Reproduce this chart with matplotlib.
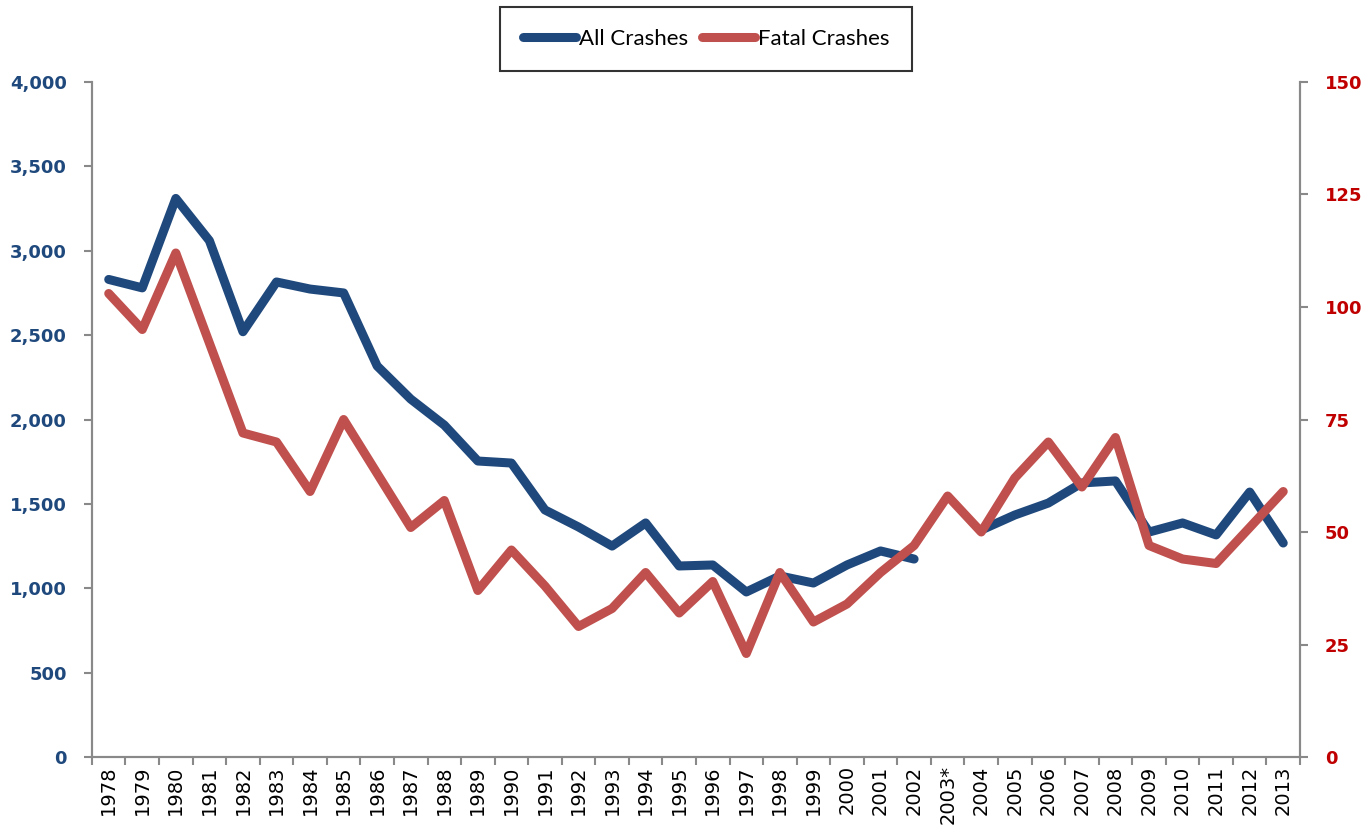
import numpy as np
import matplotlib
matplotlib.use("Agg")
import matplotlib.pyplot as plt
from matplotlib.lines import Line2D

years = ["1978", "1979", "1980", "1981", "1982", "1983", "1984", "1985", "1986", "1987",
         "1988", "1989", "1990", "1991", "1992", "1993", "1994", "1995", "1996", "1997",
         "1998", "1999", "2000", "2001", "2002", "2003*", "2004", "2005", "2006", "2007",
         "2008", "2009", "2010", "2011", "2012", "2013"]

all_crashes = [2830, 2780, 3310, 3060, 2520, 2815, 2773, 2750, 2317, 2121,
               1967, 1754, 1742, 1464, 1363, 1250, 1387, 1132, 1138, 978,
               1073, 1031, 1138, 1221, 1173, np.nan, 1345, 1434, 1505, 1624,
               1636, 1333, 1387, 1316, 1570, 1268]

fatal_crashes = [103, 95, 112, 92, 72, 70, 59, 75, 63, 51,
                 57, 37, 46, 38, 29, 33, 41, 32, 39, 23,
                 41, 30, 34, 41, 47, 58, 50, 62, 70, 60,
                 71, 47, 44, 43, 51, 59]

BLUE = "#1F497D"
RED = "#C0504D"
DARKRED = "#C00000"
GRAY = "#898989"

fig = plt.figure(figsize=(13.66, 8.35), dpi=100)
ax = fig.add_axes([0.0673, 0.0934, 0.8844, 0.8084])
ax2 = ax.twinx()

x = np.arange(len(years))
ax.plot(x, all_crashes, color=BLUE, lw=6.5, solid_capstyle="round", solid_joinstyle="round", zorder=3)
ax2.plot(x, fatal_crashes, color=RED, lw=6.5, solid_capstyle="round", solid_joinstyle="round", zorder=3)

ax.set_xlim(-0.5, len(years) - 0.5)
ax.set_ylim(0, 4000)
ax2.set_ylim(0, 150)

ax.set_yticks(np.arange(0, 4001, 500))
ax.set_yticklabels([f"{v:,}" for v in range(0, 4001, 500)])
ax2.set_yticks(np.arange(0, 151, 25))

# x ticks at category boundaries, labels at centers
ax.set_xticks(np.arange(-0.5, len(years), 1.0))
ax.set_xticklabels([])
ax.set_xticks(x, minor=True)
ax.set_xticklabels(years, minor=True, rotation=90, fontsize=14, color="black")
ax.tick_params(axis="x", which="major", direction="out", length=6, color=GRAY, width=1.5)
ax.tick_params(axis="x", which="minor", length=0, pad=6)

ax.tick_params(axis="y", direction="out", length=6, color=GRAY, width=1.5, pad=12)
ax2.tick_params(axis="y", direction="out", length=6, color=GRAY, width=1.5, pad=12)
for t in ax.get_yticklabels():
    t.set_color(BLUE); t.set_fontweight("bold"); t.set_fontsize(13)
for t in ax2.get_yticklabels():
    t.set_color(DARKRED); t.set_fontweight("bold"); t.set_fontsize(13)

for a in (ax, ax2):
    a.spines["top"].set_visible(False)
    for s in ("left", "right", "bottom"):
        a.spines[s].set_color(GRAY)
        a.spines[s].set_linewidth(1.5)

handles = [Line2D([0], [0], color=BLUE, lw=6.5, solid_capstyle="round"),
           Line2D([0], [0], color=RED, lw=6.5, solid_capstyle="round")]
leg = fig.legend(handles, ["All Crashes", "Fatal Crashes"], loc="center",
                 bbox_to_anchor=(0.517, 0.953), ncol=2, frameon=True, fancybox=False,
                 prop={"family": "Lato", "size": 16}, handlelength=2.4, handletextpad=0.15,
                 columnspacing=0.6, borderpad=1.0)
leg.get_frame().set_edgecolor("black")
leg.get_frame().set_linewidth(1.5)

fig.savefig("out.png", dpi=100)
